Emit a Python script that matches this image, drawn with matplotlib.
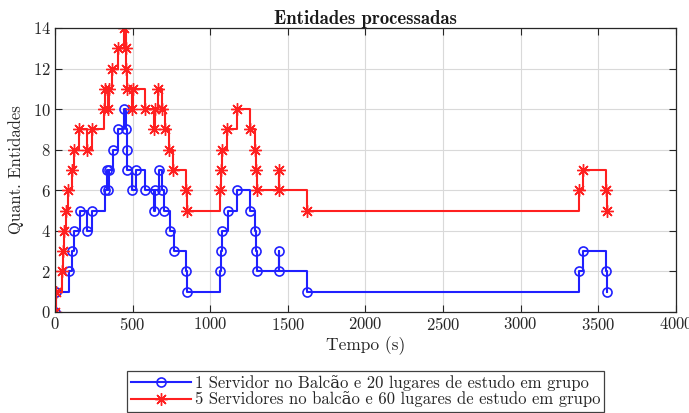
import matplotlib
matplotlib.use("Agg")
import matplotlib.pyplot as plt

# Simulation event log: time (s) and number of entities in the system
t_1serv = [3, 6, 92, 108, 122, 162, 204, 238, 325, 332, 340, 350, 372, 405, 442,
           458, 462, 465, 496, 522, 578, 641, 645, 670, 687, 700, 738, 764, 845, 848,
           1062, 1070, 1075, 1112, 1170, 1258, 1288, 1294, 1302, 1442, 1446, 1622,
           3376, 3400, 3552, 3556]
n_1serv = [0, 1, 2, 3, 4, 5, 4, 5, 6, 7, 6, 7, 8, 9, 10,
           9, 8, 7, 6, 7, 6, 5, 6, 7, 6, 5, 4, 3, 2, 1,
           2, 3, 4, 5, 6, 5, 4, 3, 2, 3, 2, 1,
           2, 3, 2, 1]

t_5serv = [3, 6, 43, 49, 58, 71, 86, 112, 124, 157, 204, 236, 315, 322, 340, 346,
           368, 406, 442, 455, 460, 463, 498, 505, 579, 641, 645, 664, 690, 706, 736,
           760, 845, 848,
           1062, 1070, 1075, 1105, 1170, 1258, 1288, 1294, 1302, 1442, 1446, 1622,
           3376, 3400, 3552, 3556]
n_5serv = [0, 1, 2, 3, 4, 5, 6, 7, 8, 9, 8, 9, 10, 11, 10, 11,
           12, 13, 14, 13, 12, 11, 10, 11, 10, 9, 10, 11, 10, 9, 8,
           7, 6, 5,
           6, 7, 8, 9, 10, 9, 8, 7, 6, 7, 6, 5,
           6, 7, 6, 5]

labels = ["1 Servidor no Balcão e 20 lugares de estudo em grupo",
          "5 Servidores no balcão e 60 lugares de estudo em grupo"]
x_ticks = [0, 500, 1000, 1500, 2000, 2500, 3000, 3500, 4000]
y_ticks = [0, 2, 4, 6, 8, 10, 12, 14]

plt.rcParams["font.family"] = ["cmr10", "DejaVu Serif"]
plt.rcParams["axes.formatter.use_mathtext"] = True
plt.rcParams["mathtext.fontset"] = "cm"

fig = plt.figure(figsize=(6.89, 4.13), dpi=100)
ax = fig.add_axes([0.0798, 0.2446, 0.9013, 0.6877])

ax.step(t_1serv, n_1serv, where="post", color="#2020ff", lw=1.5,
        marker="o", markersize=6.5, markerfacecolor="none", markeredgewidth=1.2,
        label=labels[0])
ax.step(t_5serv, n_5serv, where="post", color="#ff2020", lw=1.5,
        marker=(8, 2, 0), markersize=9, markeredgewidth=1.0,
        label=labels[1])

ax.set_xlim(0, 4000)
ax.set_ylim(0, 14)
ax.set_xticks(x_ticks)
ax.set_yticks(y_ticks)
ax.grid(True, color="#d9d9d9", lw=0.8)
ax.set_axisbelow(True)
ax.tick_params(direction="in", top=True, right=True, length=5, width=0.8,
               labelsize=12, colors="#262626", pad=3)
for s in ax.spines.values():
    s.set_color("#262626")
    s.set_linewidth(0.9)

ax.set_title("Entidades processadas", family=["cmb10", "DejaVu Serif"],
             fontsize=13.5, color="#1a1a1a", pad=3)
ax.set_xlabel("Tempo (s)", fontsize=12.5, color="#262626", labelpad=2)
ax.set_ylabel("Quant. Entidades", fontsize=12, color="#262626", labelpad=6)

leg = fig.legend(loc="center", bbox_to_anchor=(0.531, 0.053), fontsize=12,
                 fancybox=False, edgecolor="#404040", framealpha=1,
                 handlelength=3.6, borderpad=0.25, labelspacing=0.05,
                 handletextpad=0.2, borderaxespad=0)
leg.get_frame().set_linewidth(0.9)
for txt in leg.get_texts():
    txt.set_color("#262626")

fig.savefig("out.png", dpi=100)
